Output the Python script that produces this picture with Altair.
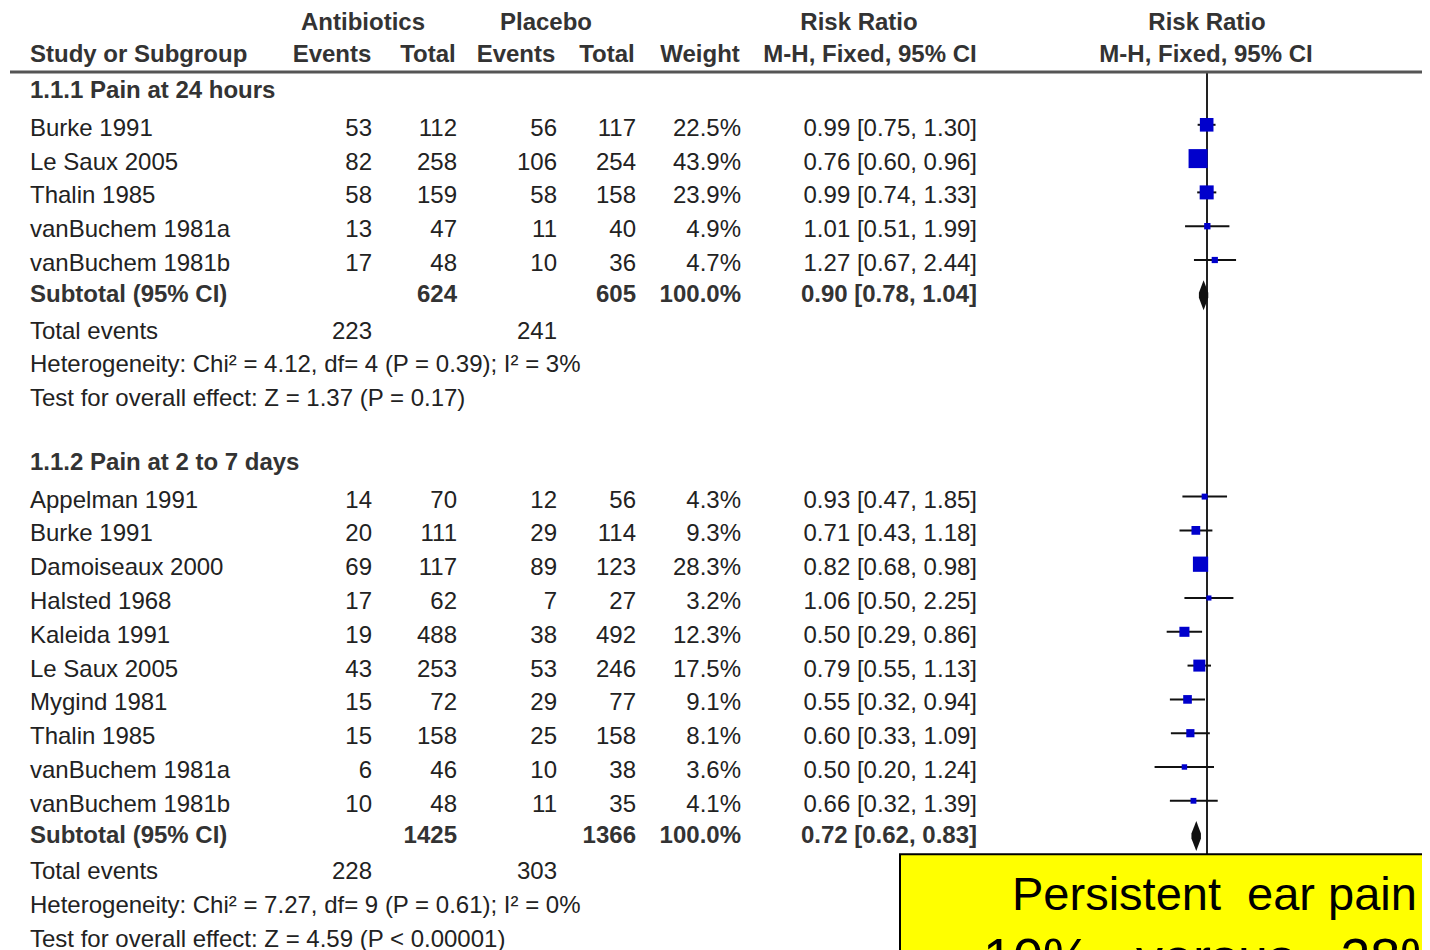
import altair as alt
import pandas as pd

# ---------------- data ----------------
subgroup_titles = ["1.1.1 Pain at 24 hours", "1.1.2 Pain at 2 to 7 days"]

g1_study = ["Burke 1991", "Le Saux 2005", "Thalin 1985", "vanBuchem 1981a", "vanBuchem 1981b"]
g1_ab_events = [53, 82, 58, 13, 17]
g1_ab_total = [112, 258, 159, 47, 48]
g1_pl_events = [56, 106, 58, 11, 10]
g1_pl_total = [117, 254, 158, 40, 36]
g1_weight = [22.5, 43.9, 23.9, 4.9, 4.7]
g1_rr = [0.99, 0.76, 0.99, 1.01, 1.27]
g1_lo = [0.75, 0.60, 0.74, 0.51, 0.67]
g1_hi = [1.30, 0.96, 1.33, 1.99, 2.44]

g2_study = ["Appelman 1991", "Burke 1991", "Damoiseaux 2000", "Halsted 1968", "Kaleida 1991",
            "Le Saux 2005", "Mygind 1981", "Thalin 1985", "vanBuchem 1981a", "vanBuchem 1981b"]
g2_ab_events = [14, 20, 69, 17, 19, 43, 15, 15, 6, 10]
g2_ab_total = [70, 111, 117, 62, 488, 253, 72, 158, 46, 48]
g2_pl_events = [12, 29, 89, 7, 38, 53, 29, 25, 10, 11]
g2_pl_total = [56, 114, 123, 27, 492, 246, 77, 158, 38, 35]
g2_weight = [4.3, 9.3, 28.3, 3.2, 12.3, 17.5, 9.1, 8.1, 3.6, 4.1]
g2_rr = [0.93, 0.71, 0.82, 1.06, 0.50, 0.79, 0.55, 0.60, 0.50, 0.66]
g2_lo = [0.47, 0.43, 0.68, 0.50, 0.29, 0.55, 0.32, 0.33, 0.20, 0.32]
g2_hi = [1.85, 1.18, 0.98, 2.25, 0.86, 1.13, 0.94, 1.09, 1.24, 1.39]

subtotal_ab_total = [624, 1425]
subtotal_pl_total = [605, 1366]
subtotal_rr = [0.90, 0.72]
subtotal_lo = [0.78, 0.62]
subtotal_hi = [1.04, 0.83]
total_events_ab = [223, 228]
total_events_pl = [241, 303]
heterogeneity = ["Heterogeneity: Chi\u00b2 = 4.12, df= 4 (P = 0.39); I\u00b2 = 3%",
                 "Heterogeneity: Chi\u00b2 = 7.27, df= 9 (P = 0.61); I\u00b2 = 0%"]
overall_effect = ["Test for overall effect: Z = 1.37 (P = 0.17)",
                  "Test for overall effect: Z = 4.59 (P < 0.00001)"]
note_lines = ["Persistent\u00a0\u00a0ear pain", "10%\u00a0\u00a0\u00a0versus\u00a0\u00a0\u00a028%"]

groups = [
    (g1_study, g1_ab_events, g1_ab_total, g1_pl_events, g1_pl_total, g1_weight, g1_rr, g1_lo, g1_hi),
    (g2_study, g2_ab_events, g2_ab_total, g2_pl_events, g2_pl_total, g2_weight, g2_rr, g2_lo, g2_hi),
]

# ---------------- table rows ----------------
head_rows, study_rows, sub_rows, tot_rows, note_rows, diamond_pts = [], [], [], [], [], []
r = 0
for gi, (st, ae, at, pe, pt, w, rr, lo, hi) in enumerate(groups):
    head_rows.append({"row": r, "label": subgroup_titles[gi]})
    r += 1
    for i in range(len(st)):
        study_rows.append({
            "row": r, "label": st[i], "ae": str(ae[i]), "at": str(at[i]),
            "pe": str(pe[i]), "pt": str(pt[i]), "w": w[i], "wtxt": f"{w[i]:.1f}%",
            "rr": rr[i], "lo": lo[i], "hi": hi[i],
            "ci": f"{rr[i]:.2f} [{lo[i]:.2f}, {hi[i]:.2f}]",
        })
        r += 1
    sub_rows.append({
        "row": r, "label": "Subtotal (95% CI)", "at": str(subtotal_ab_total[gi]),
        "pt": str(subtotal_pl_total[gi]), "wtxt": "100.0%",
        "ci": f"{subtotal_rr[gi]:.2f} [{subtotal_lo[gi]:.2f}, {subtotal_hi[gi]:.2f}]",
    })
    half = 0.37
    diamond_pts += [
        {"g": gi, "x": subtotal_lo[gi], "y": r, "y2": r},
        {"g": gi, "x": subtotal_rr[gi], "y": r - half, "y2": r + half},
        {"g": gi, "x": subtotal_hi[gi], "y": r, "y2": r},
    ]
    r += 1
    tot_rows.append({"row": r, "label": "Total events", "ae": str(total_events_ab[gi]),
                     "pe": str(total_events_pl[gi])})
    r += 1
    note_rows.append({"row": r, "label": heterogeneity[gi]})
    r += 1
    note_rows.append({"row": r, "label": overall_effect[gi]})
    r += 2

head_df = pd.DataFrame(head_rows)
study_df = pd.DataFrame(study_rows)
sub_df = pd.DataFrame(sub_rows)
tot_df = pd.DataFrame(tot_rows)
note_df = pd.DataFrame(note_rows)
diamond_df = pd.DataFrame(diamond_pts)

# ---------------- styling ----------------
FONT = "Liberation Sans"
FS = 24
BODY = "#222222"
HEAD = "#333333"
W, H = 1414, 942

yscale = alt.Scale(domain=[-2.574, 25.296], reverse=True, nice=False, zero=False)
xscale = alt.Scale(type="log", domain=[0.01, 100], range=[1049, 1349], nice=False)


def Yrow():
    return alt.Y("row:Q", scale=yscale, axis=None)


def col(df, field, xpx, align="right", bold=False, dy=0, color=BODY):
    return alt.Chart(df).mark_text(
        align=align, baseline="middle", font=FONT, fontSize=FS,
        fontWeight="bold" if bold else "normal", color=color, dy=dy,
    ).encode(x=alt.value(xpx), y=Yrow(), text=f"{field}:N")


def header(label, xpx, rowpos, dy, align="center"):
    return alt.Chart(pd.DataFrame({"t": [label]})).mark_text(
        align=align, baseline="middle", font=FONT, fontSize=FS, fontWeight="bold",
        color=HEAD, dy=dy,
    ).encode(x=alt.value(xpx), y=alt.Y(datum=rowpos, scale=yscale, axis=None), text="t:N")


layers = []

# vertical line of no effect
layers.append(alt.Chart(pd.DataFrame({"v": [1]})).mark_rule(color="#222222", strokeWidth=2).encode(
    x=alt.X("v:Q", scale=xscale, axis=None),
    y=alt.Y(datum=-0.68, scale=yscale, axis=None),
    y2=alt.Y2(datum=25.4),
))

# header rule
layers.append(alt.Chart(pd.DataFrame({"v": [1]})).mark_rule(color="#555555", strokeWidth=3).encode(
    x=alt.value(2), x2=alt.value(W),
    y=alt.Y(datum=-0.68, scale=yscale, axis=None),
))

# headers
layers += [
    header("Antibiotics", 355, -2, -4),
    header("Placebo", 538, -2, -4),
    header("Risk Ratio", 851, -2, -4),
    header("Risk Ratio", 1199, -2, -4),
    header("Study or Subgroup", 22, -1, -6, align="left"),
    header("Events", 324, -1, -6),
    header("Total", 420, -1, -6),
    header("Events", 508, -1, -6),
    header("Total", 599, -1, -6),
    header("Weight", 692, -1, -6),
    header("M-H, Fixed, 95% CI", 862, -1, -6),
    header("M-H, Fixed, 95% CI", 1198, -1, -6),
]

# subgroup headings
layers.append(col(head_df, "label", 22, align="left", bold=True, dy=-4, color=HEAD))

# study rows
layers += [
    col(study_df, "label", 22, align="left"),
    col(study_df, "ae", 364),
    col(study_df, "at", 449),
    col(study_df, "pe", 549),
    col(study_df, "pt", 628),
    col(study_df, "wtxt", 733),
    col(study_df, "ci", 969),
]

# subtotal rows
layers += [
    col(sub_df, "label", 22, align="left", bold=True, dy=-3, color=HEAD),
    col(sub_df, "at", 449, bold=True, dy=-3, color=HEAD),
    col(sub_df, "pt", 628, bold=True, dy=-3, color=HEAD),
    col(sub_df, "wtxt", 733, bold=True, dy=-3, color=HEAD),
    col(sub_df, "ci", 969, bold=True, dy=-3, color=HEAD),
]

# total events & notes
layers += [
    col(tot_df, "label", 22, align="left"),
    col(tot_df, "ae", 364),
    col(tot_df, "pe", 549),
    col(note_df, "label", 22, align="left"),
]

# confidence intervals
layers.append(alt.Chart(study_df).mark_rule(color="#111111", strokeWidth=2, yOffset=-4).encode(
    x=alt.X("lo:Q", scale=xscale, axis=None),
    x2="hi:Q",
    y=Yrow(),
))

# weighted squares
layers.append(alt.Chart(study_df).mark_square(filled=True, color="#0000CC", opacity=1, yOffset=-4).encode(
    x=alt.X("rr:Q", scale=xscale, axis=None),
    y=Yrow(),
    size=alt.Size("w:Q", scale=alt.Scale(domain=[0, 100], range=[0, 822]), legend=None),
))

# subtotal diamonds
layers.append(alt.Chart(diamond_df).mark_area(color="#111111", orient="vertical", yOffset=-5).encode(
    x=alt.X("x:Q", scale=xscale, axis=None),
    y=alt.Y("y:Q", scale=yscale, axis=None),
    y2="y2:Q",
    detail="g:N",
))

# yellow annotation box
layers.append(alt.Chart(pd.DataFrame({"v": [1]})).mark_rect(
    fill="#FFFF00", stroke="#000000", strokeWidth=2, clip=True,
).encode(
    x=alt.value(892), x2=alt.value(W + 40),
    y=alt.Y(datum=22.46, scale=yscale, axis=None),
    y2=alt.Y2(datum=27.5),
))
layers.append(alt.Chart(pd.DataFrame({"t": [note_lines[0]]})).mark_text(
    align="left", baseline="alphabetic", font=FONT, fontSize=47, color="#000000", clip=True,
).encode(x=alt.value(1004), y=alt.Y(datum=24.11, scale=yscale, axis=None), text="t:N"))
layers.append(alt.Chart(pd.DataFrame({"t": [note_lines[1]]})).mark_text(
    align="left", baseline="alphabetic", font=FONT, fontSize=54, color="#000000", clip=True,
).encode(x=alt.value(975), y=alt.Y(datum=26.07, scale=yscale, axis=None), text="t:N"))

chart = alt.layer(*layers).properties(
    width=W, height=H, padding=0, autosize=alt.AutoSizeParams(type="none"),
).configure_view(strokeWidth=0)

chart.save("out.html", embed_options={"renderer": "svg", "actions": False})
